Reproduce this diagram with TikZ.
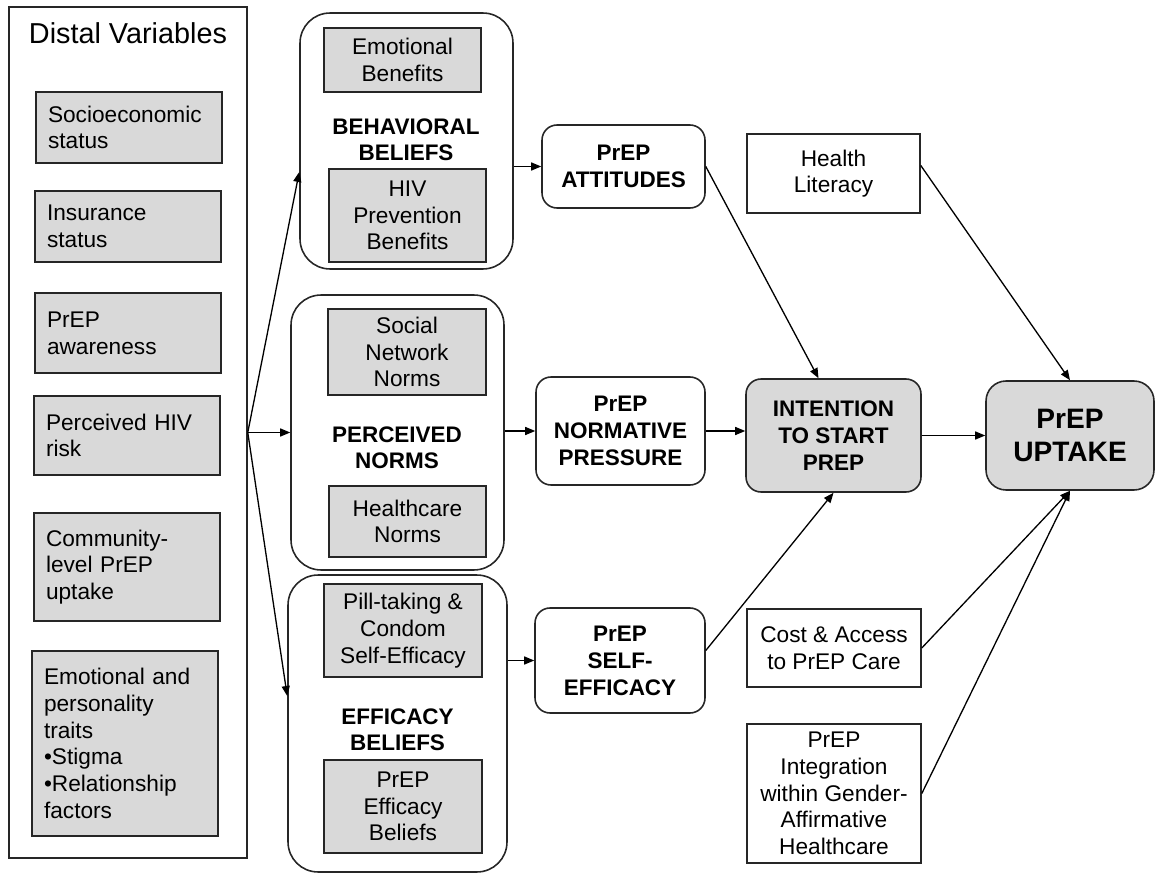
\documentclass[tikz,border=0pt]{standalone}
\usepackage{fontspec}
\setmainfont{Liberation Sans}
\usetikzlibrary{arrows.meta}
\definecolor{boxgray}{HTML}{D9D9D9}

\begin{document}
\begin{tikzpicture}[x=0.02cm,y=-0.02cm]
\tikzstyle{every node}+=[inner sep=0pt, font=\fontsize{12.9}{15.2}\selectfont, text=black]
\tikzstyle{outline}=[draw=black!85, line width=0.9pt]
\tikzstyle{distalitem}=[outline, fill=boxgray, align=left, text width=3.24cm, minimum width=3.72cm]
\tikzstyle{subitem}=[outline, fill=boxgray, align=center]
\tikzstyle{group}=[outline, rounded corners=0.6cm]
\tikzstyle{grouplbl}=[align=center, font=\fontsize{12.8}{15}\selectfont\bfseries]
\tikzstyle{construct}=[outline, rounded corners=0.3cm, align=center, font=\fontsize{12.8}{15.4}\selectfont\bfseries]
\tikzstyle{factor}=[outline, align=center]
\tikzstyle{arr}=[line width=0.75pt, -{Triangle[length=0.2cm,width=0.16cm]}]
\useasboundingbox (0,0) rectangle (1155,874);

% distal variables
\node[outline, minimum width=4.76cm, minimum height=17.02cm] (distal) at (128,432.5) {};
\node[font=\fontsize{16.4}{19}\selectfont] (distaltitle) at (128,33) {Distal Variables};
\node[distalitem, minimum height=1.42cm] (socio) at (129,127.5) {Socioeconomic\\status};
\node[distalitem, minimum height=1.42cm] (insur) at (128,226.5) {Insurance\\status};
\node[distalitem, minimum height=1.6cm] (aware) at (128,333) {PrEP\\awareness};
\node[distalitem, minimum height=1.58cm] (hivrisk) at (127,435.5) {Perceived HIV\\risk};
\node[distalitem, minimum height=2.16cm] (commun) at (127,567) {Community-\\level PrEP\\uptake};
\node[distalitem, minimum height=3.7cm] (emotr) at (125,743.5) {Emotional and\\personality\\traits\\\textbullet Stigma\\\textbullet Relationship\\factors};

% belief groups
\node[group, minimum width=4.26cm, minimum height=5.12cm] (behav) at (406.5,141) {};
\node[group, minimum width=4.26cm, minimum height=5.5cm] (norms) at (397.5,432.5) {};
\node[group, minimum width=4.38cm, minimum height=5.94cm] (effic) at (397.5,723.5) {};

\node[subitem, minimum width=3.14cm, minimum height=1.28cm] (emoben) at (402.5,60) {Emotional\\Benefits};
\node[grouplbl] (behavlbl) at (406,140) {BEHAVIORAL\\BELIEFS};
\node[subitem, minimum width=3.14cm, minimum height=1.86cm] (hivben) at (407.5,215.5) {HIV\\Prevention\\Benefits};

\node[subitem, minimum width=3.16cm, minimum height=1.72cm] (socnet) at (407,352) {Social\\Network\\Norms};
\node[grouplbl] (normslbl) at (397,447.5) {PERCEIVED\\NORMS};
\node[subitem, minimum width=3.14cm, minimum height=1.42cm] (hcnorm) at (407.5,521.5) {Healthcare\\Norms};

\node[subitem, minimum width=3.16cm, minimum height=1.86cm] (pill) at (403,630.5) {Pill-taking \&\\Condom\\Self-Efficacy};
\node[grouplbl] (efficlbl) at (397.5,729.5) {EFFICACY\\BELIEFS};
\node[subitem, minimum width=3.16cm, minimum height=1.86cm] (prepeff) at (403,806.5) {PrEP\\Efficacy\\Beliefs};

% constructs
\node[construct, minimum width=3.26cm, minimum height=1.66cm] (att) at (623.5,166.5) {PrEP\\ATTITUDES};
\node[construct, minimum width=3.38cm, minimum height=2.16cm] (press) at (620.5,431) {PrEP\\NORMATIVE\\PRESSURE};
\node[construct, minimum width=3.4cm, minimum height=2.1cm] (selfeff) at (620,660.5) {PrEP\\SELF-\\EFFICACY};
\node[construct, fill=boxgray, minimum width=3.5cm, minimum height=2.26cm] (intent) at (833.5,435.5) {INTENTION\\TO START\\PREP};
\node[construct, fill=boxgray, rounded corners=0.4cm, minimum width=3.36cm, minimum height=2.18cm,
  font=\fontsize{16}{18.8}\selectfont\bfseries] (uptake) at (1070,435.5) {PrEP\\UPTAKE};

% structural factors
\node[factor, minimum width=3.46cm, minimum height=1.58cm] (health) at (833.5,173.5) {Health\\Literacy};
\node[factor, minimum width=3.48cm, minimum height=1.56cm] (cost) at (834,648) {Cost \& Access\\to PrEP Care};
\node[factor, minimum width=3.48cm, minimum height=2.78cm] (integ) at (834,793.5) {PrEP\\Integration\\within Gender-\\Affirmative\\Healthcare};

% arrows
\draw[arr] (distal.east) -- ([yshift=-0.62cm]behav.west);
\draw[arr] (distal.east) -- (norms.west);
\draw[arr] (distal.east) -- ([yshift=0.55cm]effic.west);
\draw[arr] (behav.east |- att.west) -- (att.west);
\draw[arr] (norms.east |- press.west) -- (press.west);
\draw[arr] (effic.east |- selfeff.west) -- (selfeff.west);
\draw[arr] (att.east) -- ([xshift=-0.3cm]intent.north);
\draw[arr] (press.east) -- (press.east -| intent.west);
\draw[arr] ([yshift=0.2cm]selfeff.east) -- (intent.south);
\draw[arr] (intent.east) -- (uptake.west);
\draw[arr] ([yshift=0.16cm]health.east) -- (uptake.north);
\draw[arr] (cost.east) -- (uptake.south);
\draw[arr] (integ.east) -- (uptake.south);
\end{tikzpicture}
\end{document}
